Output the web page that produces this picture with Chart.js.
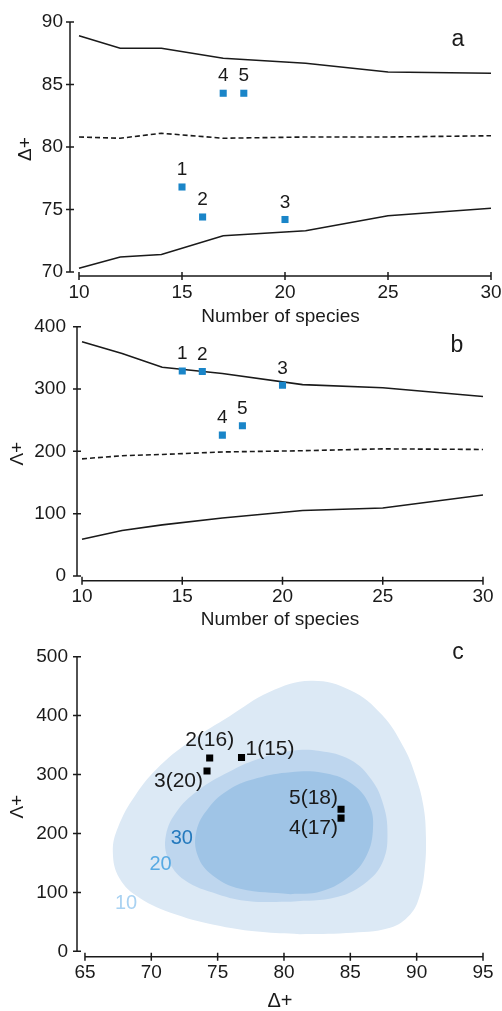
<!DOCTYPE html>
<html>
<head>
<meta charset="utf-8">
<script src="https://cdn.jsdelivr.net/npm/chart.js@4.4.0/dist/chart.umd.min.js"></script>
<style>
  body { margin: 0; background: #fff; }
  .wrap { position: relative; width: 502px; height: 1011px; }
  canvas { position: absolute; left: 0; top: 0; }
</style>
</head>
<body>
<div class="wrap">
  <canvas id="chartA" width="502" height="1011"></canvas>
  <canvas id="chartB" width="502" height="1011"></canvas>
  <canvas id="chartC" width="502" height="1011"></canvas>
</div>
<script>
// number of species for the simulated funnels
const species = [10, 12, 14, 17, 21, 25, 30];
// Delta+ funnel (upper limit, mean, lower limit)
const deltaUpper = [88.9, 87.9, 87.9, 87.1, 86.7, 86.0, 85.9];
const deltaMean = [80.8, 80.7, 81.1, 80.7, 80.8, 80.8, 80.9];
const deltaLower = [70.3, 71.2, 71.4, 72.9, 73.3, 74.5, 75.1];
// Lambda+ funnel
const lambdaUpper = [376, 357, 335, 325, 307, 302, 288];
const lambdaMean = [188, 193, 195, 199, 201, 204, 203];
const lambdaLower = [59, 73, 82, 93, 105, 109, 130];

// sampled sites
const siteNames = ["1", "2", "3", "4", "5"];
const siteSpecies = [15, 16, 20, 17, 18];
const siteDelta = [76.8, 74.4, 74.2, 84.3, 84.3];
const siteLambda = [329, 328, 306, 226, 241];

// tick labels
const xTicksAB = [10, 15, 20, 25, 30];
const yTicksA = [70, 75, 80, 85, 90];
const yTicksB = [0, 100, 200, 300, 400];
const xTicksC = [65, 70, 75, 80, 85, 90, 95];
const yTicksC = [0, 100, 200, 300, 400, 500];

// 95% probability contours (Delta+, Lambda+) for 10, 20 and 30 species
const contourNames = ["10", "20", "30"];
const contour10X = [81.2, 84.7, 88.0, 89.5, 90.2, 90.6, 90.7, 90.5, 89.9, 89.0, 87.4, 85.0, 82.0, 78.9, 75.9, 73.1, 70.7, 68.8, 67.5, 67.1, 67.6, 69.1, 71.8, 75.2, 78.2, 81.2];
const contour10Y = [29, 31, 40, 62, 92, 138, 194, 248, 299, 347, 401, 443, 459, 440, 399, 359, 316, 265, 211, 169, 124, 91, 63, 43, 33, 29];
const contour20X = [80.5, 84.0, 86.3, 87.5, 87.8, 87.5, 86.6, 85.0, 82.7, 80.5, 78.0, 75.8, 73.7, 72.0, 71.1, 71.3, 72.5, 75.0, 77.4, 80.5];
const contour20Y = [84, 92, 119, 155, 201, 248, 291, 325, 340, 340, 326, 304, 276, 240, 197, 155, 121, 97, 85, 84];
const contour30X = [80.5, 82.7, 84.7, 86.1, 86.7, 86.4, 85.0, 82.9, 80.5, 78.0, 75.9, 74.3, 73.4, 73.5, 74.6, 76.7, 80.5];
const contour30Y = [97, 101, 123, 157, 204, 250, 286, 303, 304, 294, 275, 243, 204, 162, 129, 106, 97];
// where the contour names sit (data coords)
const contourLabelX = [68.1, 70.7, 72.3];
const contourLabelY = [82, 147, 192];

const FONT = "'Liberation Sans', Arial, sans-serif";
const INK = "#1a1a1a";
const SITE_BLUE = "#1a85c8";
const fillColors = ["#dce9f5", "#bed6ee", "#9fc4e6"];
const contourTextColors = ["#a9d2f2", "#58aae3", "#2479bd"];

const pts = (xs, ys) => xs.map((v, i) => ({ x: v, y: ys[i] }));
const fixTicks = (vals) => (scale) => { scale.ticks = vals.map((v) => ({ value: v })); };

// axis lines that run from first to last tick, with ticks crossing the line
const axisLines = {
  id: "axisLines",
  afterDraw(chart) {
    const { ctx, chartArea: ca, scales } = chart;
    const xs = scales.x.ticks.map((t) => scales.x.getPixelForValue(t.value));
    const ys = scales.y.ticks.map((t) => scales.y.getPixelForValue(t.value));
    ctx.save();
    ctx.strokeStyle = INK;
    ctx.lineWidth = 1.5;
    ctx.beginPath();
    ctx.moveTo(xs[0], ca.bottom);
    ctx.lineTo(xs[xs.length - 1], ca.bottom);
    xs.forEach((p) => { ctx.moveTo(p, ca.bottom - 4); ctx.lineTo(p, ca.bottom + 4); });
    ctx.moveTo(ca.left, ys[0]);
    ctx.lineTo(ca.left, ys[ys.length - 1]);
    ys.forEach((p) => { ctx.moveTo(ca.left - 4, p); ctx.lineTo(ca.left + 4, p); });
    ctx.stroke();
    ctx.restore();
  },
};

// text next to the site markers, the panel letter, contour names
const annotations = {
  id: "annotations",
  afterDatasetsDraw(chart, args, opts) {
    const { ctx, chartArea: ca } = chart;
    ctx.save();
    ctx.textBaseline = "middle";
    if (opts.siteDataset !== undefined) {
      const meta = chart.getDatasetMeta(opts.siteDataset);
      ctx.font = opts.siteFont;
      ctx.fillStyle = INK;
      meta.data.forEach((el, i) => {
        const p = opts.place[i];
        ctx.textAlign = p.align;
        ctx.fillText(opts.texts[i], el.x + p.dx, el.y + p.dy);
      });
    }
    if (opts.contours) {
      ctx.font = "20px " + FONT;
      ctx.textAlign = "center";
      contourNames.forEach((n, i) => {
        ctx.fillStyle = contourTextColors[i];
        ctx.fillText(n, chart.scales.x.getPixelForValue(contourLabelX[i]), chart.scales.y.getPixelForValue(contourLabelY[i]));
      });
    }
    ctx.font = "23px " + FONT;
    ctx.fillStyle = INK;
    ctx.textAlign = "center";
    ctx.fillText(opts.letter, ca.right + opts.letterDx, ca.top + opts.letterDy);
    ctx.restore();
  },
};

function lineSet(ys, dashed) {
  return {
    data: pts(species, ys),
    showLine: true,
    borderColor: INK,
    borderWidth: 1.6,
    borderDash: dashed ? [5, 3] : [],
    pointRadius: 0,
    tension: 0,
    fill: false,
  };
}

function axes(o) {
  const tickFont = { family: FONT, size: 19 };
  return {
    x: {
      type: "linear",
      min: o.xMin, max: o.xMax,
      afterBuildTicks: fixTicks(o.xTicks),
      afterFit: (s) => { s.height = o.xH; s.paddingLeft = 0; s.paddingRight = 0; },
      grid: { display: false, drawTicks: false },
      border: { display: false },
      ticks: { color: INK, font: tickFont, padding: o.xPad, maxRotation: 0 },
      title: { display: true, text: o.xTitle, color: INK, font: { family: FONT, size: o.xTitleSize, lineHeight: o.xTitleLH }, padding: 0 },
    },
    y: {
      type: "linear",
      min: o.yMin, max: o.yMax,
      afterBuildTicks: fixTicks(o.yTicks),
      afterFit: (s) => { s.width = o.yW; s.paddingTop = 0; s.paddingBottom = 0; },
      grid: { display: false, drawTicks: false },
      border: { display: false },
      ticks: { color: INK, font: tickFont, padding: o.yPad },
      title: { display: true, text: o.yTitle, color: INK, font: { family: FONT, size: 19 }, padding: { top: o.yTitlePad, bottom: 0 } },
    },
  };
}

const common = {
  responsive: false,
  animation: false,
  devicePixelRatio: 1,
};
const basePlugins = { legend: { display: false }, tooltip: { enabled: false } };

const siteSet = (ys) => ({
  data: pts(siteSpecies, ys),
  pointStyle: "rect",
  pointRadius: 5,
  backgroundColor: SITE_BLUE,
  borderColor: SITE_BLUE,
  borderWidth: 0,
});
const abPlace = siteNames.map(() => ({ align: "center", dx: 0, dy: -17 }));

// panel a
new Chart(document.getElementById("chartA"), {
  type: "scatter",
  data: { datasets: [siteSet(siteDelta), lineSet(deltaUpper), lineSet(deltaMean, true), lineSet(deltaLower)] },
  options: Object.assign({}, common, {
    layout: { padding: { left: 10, right: 11, top: 22, bottom: 682.6 } },
    scales: axes({ xMin: 9.563, xMax: 30, xTicks: xTicksAB, xH: 52.4, xPad: 5, xTitle: "Number of species", xTitleSize: 19, xTitleLH: 1.2,
      yMin: 69.68, yMax: 90, yTicks: yTicksA, yW: 60, yPad: 7, yTitle: "Δ+", yTitlePad: 4.2 }),
    plugins: Object.assign({}, basePlugins, {
      annotations: { siteDataset: 0, texts: siteNames, place: abPlace, siteFont: "19px " + FONT, letter: "a", letterDx: -33, letterDy: 18 },
    }),
  }),
  plugins: [axisLines, annotations],
});

// panel b
new Chart(document.getElementById("chartB"), {
  type: "scatter",
  data: { datasets: [siteSet(siteLambda), lineSet(lambdaUpper), lineSet(lambdaMean, true), lineSet(lambdaLower)] },
  options: Object.assign({}, common, {
    layout: { padding: { left: 0, right: 19, top: 326.7, bottom: 379.6 } },
    scales: axes({ xMin: 9.75, xMax: 30, xTicks: xTicksAB, xH: 50.7, xPad: 5, xTitle: "Number of species", xTitleSize: 19, xTitleLH: 1.2,
      yMin: -7.54, yMax: 400, yTicks: yTicksB, yW: 77, yPad: 11, yTitle: "Λ+", yTitlePad: 6 }),
    plugins: Object.assign({}, basePlugins, {
      annotations: { siteDataset: 0, texts: siteNames, place: abPlace, siteFont: "19px " + FONT, letter: "b", letterDx: -26, letterDy: 19 },
    }),
  }),
  plugins: [axisLines, annotations],
});

// panel c
const contourSet = (xs, ys, i) => ({
  data: pts(xs, ys),
  showLine: true,
  tension: 0.4,
  borderWidth: 0,
  borderColor: fillColors[i],
  backgroundColor: fillColors[i],
  pointRadius: 0,
  fill: "shape",
  order: 3 - i,
});
const cPlace = [
  { align: "left", dx: 4, dy: -8 },
  { align: "center", dx: 0, dy: -18 },
  { align: "right", dx: -4, dy: 10 },
  { align: "right", dx: -3, dy: 10 },
  { align: "right", dx: -3, dy: -11 },
];
const cTexts = siteNames.map((n, i) => n + "(" + siteSpecies[i] + ")");

new Chart(document.getElementById("chartC"), {
  type: "scatter",
  data: {
    datasets: [
      { data: pts(siteDelta, siteLambda), pointStyle: "rect", pointRadius: 5, backgroundColor: "#000", borderColor: "#000", borderWidth: 0, order: 0 },
      contourSet(contour10X, contour10Y, 0),
      contourSet(contour20X, contour20Y, 1),
      contourSet(contour30X, contour30Y, 2),
    ],
  },
  options: Object.assign({}, common, {
    layout: { padding: { left: 0, right: 19, top: 656.7, bottom: 0 } },
    scales: axes({ xMin: 64.4, xMax: 95, xTicks: xTicksC, xH: 54.3, xPad: 5, xTitle: "Δ+", xTitleSize: 20, xTitleLH: 1,
      yMin: -9.16, yMax: 500, yTicks: yTicksC, yW: 77, yPad: 9, yTitle: "Λ+", yTitlePad: 6 }),
    plugins: Object.assign({}, basePlugins, {
      annotations: { siteDataset: 0, texts: cTexts, place: cPlace, siteFont: "21px " + FONT, contours: true, letter: "c", letterDx: -25, letterDy: -4 },
    }),
  }),
  plugins: [axisLines, annotations],
});
</script>
</body>
</html>
